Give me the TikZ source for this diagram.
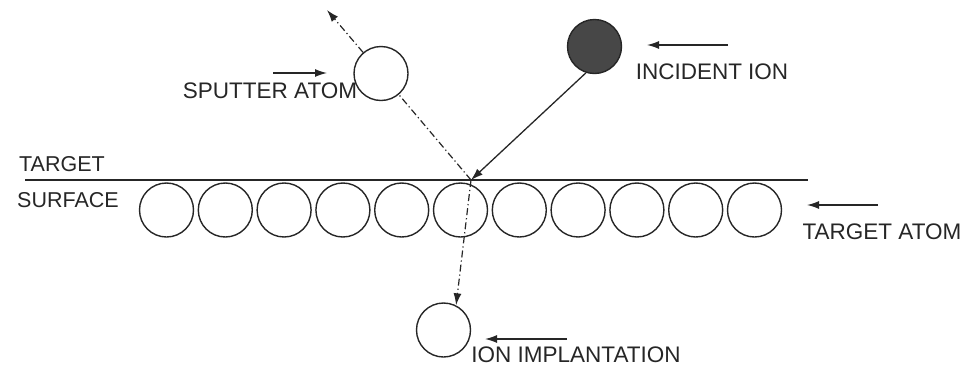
\documentclass[tikz,border=0pt]{standalone}
\usepackage{fontspec}
\setmainfont{Liberation Sans}
\usetikzlibrary{arrows.meta}
\definecolor{ink}{HTML}{262626}
\begin{document}
\begin{tikzpicture}[x=1pt,y=-1pt,
  atom/.style={circle,draw=ink,line width=1.4pt,minimum size=54pt,inner sep=0pt},
  ionball/.style={atom,fill=black!72},
  lbl/.style={text=ink,font=\fontsize{22.5}{24}\selectfont,inner sep=0pt},
  lblsm/.style={lbl,font=\fontsize{21.5}{23}\selectfont},
  tip/.style={-{Latex[length=12pt,width=8pt]}},
  path/.style={draw=ink,line width=1.2pt,dash pattern=on 7pt off 3pt on 1.2pt off 3pt},
  pointer/.style={draw=ink,line width=1.3pt,tip}]
\useasboundingbox (0,0) rectangle (969,373);
% surface
\coordinate (sl) at (25,180);
\coordinate (sr) at (808,180);
\draw[ink,line width=2.8pt] (sl) -- (sr);
% target atoms
\foreach \i in {0,...,10}{
  \node[atom] (t\i) at ({166.5+58.8*\i},210) {};
}
% particles
\node[ionball] (ion) at (594.5,46.5) {};
\node[atom] (sp) at (381,73.5) {};
\node[atom] (im) at (443.5,330) {};
\coordinate (hit) at (471,180);
\coordinate (sptip) at (327,10);
% trajectories
\draw[ink,line width=1.3pt,tip] (ion.252) -- (hit);
\draw[path] (hit) -- (sp);
\draw[path,tip] (sp) -- (sptip);
\draw[path,tip] (hit) -- (im.63);
% labels
\node[lblsm,anchor=west] (lt) at (19,164) {TARGET};
\node[lblsm,anchor=west] (ls) at (17,200) {SURFACE};
\node[lbl] (lsp) at (270,90.5) {SPUTTER ATOM};
\node[lbl] (lin) at (712,72) {INCIDENT ION};
\node[lbl] (lta) at (882,232) {TARGET ATOM};
\node[lbl] (lim) at (576,355) {ION IMPLANTATION};
% label pointers
\coordinate (a1s) at (273,73); \coordinate (a1e) at (327,73);
\coordinate (a2s) at (728,45); \coordinate (a2e) at (647,45);
\coordinate (a3s) at (878,205); \coordinate (a3e) at (807,205);
\coordinate (a4s) at (567,339); \coordinate (a4e) at (485,339);
\draw[pointer] (a1s) -- (a1e);
\draw[pointer] (a2s) -- (a2e);
\draw[pointer] (a3s) -- (a3e);
\draw[pointer] (a4s) -- (a4e);
\end{tikzpicture}
\end{document}
